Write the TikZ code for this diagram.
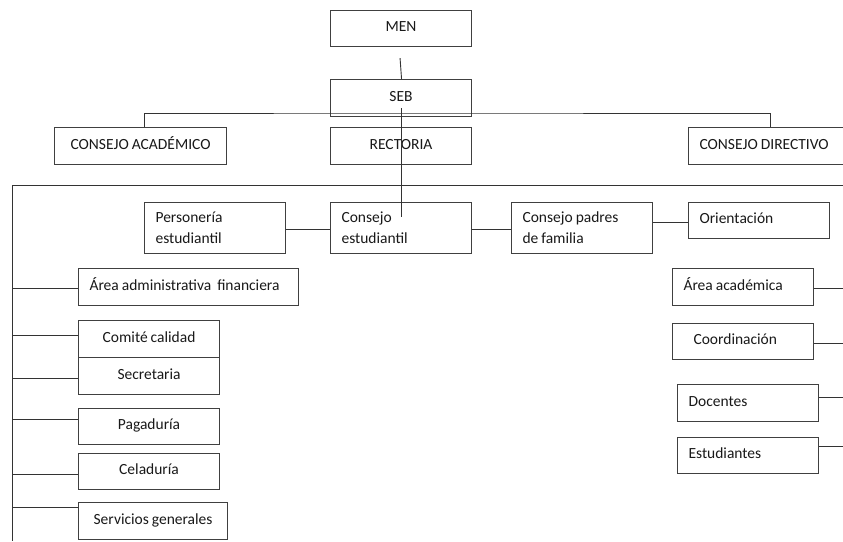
\documentclass[tikz,border=0pt]{standalone}
\usepackage{fontspec}
\setmainfont{Carlito}[WordSpace=0.85]
\begin{document}
\begin{tikzpicture}[x=1pt,y=-1pt,
  base/.style={draw=black!75, line width=1.1pt, rectangle, anchor=north west,
    inner xsep=11pt, inner ysep=0pt, font=\fontsize{15.5}{21}\selectfont, text=black!90},
  box/.style={base, text height=11pt, text depth=5pt},
  lbox/.style={box, align=flush left},
  tbox/.style={base, align=flush left},
  conn/.style={draw=black!80, line width=0.9pt}]
\useasboundingbox[fill=white] (0,0) rectangle (843,541);
% top level
\node[box, minimum width=141pt, minimum height=36pt] (men) at (330,10) {MEN};
\node[box, minimum width=141pt, minimum height=37pt] (seb) at (330,79) {SEB};
\node[box, minimum width=172pt, minimum height=37pt] (ca) at (54,127) {CONSEJO ACADÉMICO};
\node[box, minimum width=141pt, minimum height=37pt] (rec) at (330,127) {RECTORIA};
\node[lbox, text width=140pt, minimum height=37pt] (cd) at (688,127) {CONSEJO DIRECTIVO};
% second row
\node[tbox, text width=119pt, minimum height=51pt] (pers) at (144,202) {Personería\\estudiantil};
\node[tbox, text width=119pt, minimum height=51pt] (cest) at (330,202) {Consejo\\estudiantil};
\node[tbox, text width=119pt, minimum height=51pt] (cpf) at (511,202) {Consejo padres\\de familia};
\node[lbox, text width=119pt, minimum height=36pt] (ori) at (688,202) {Orientación};
% left column
\node[lbox, text width=198pt, minimum height=37pt] (aaf) at (78,268) {Área administrativa\ \ financiera};
\node[box, minimum width=141pt, minimum height=37pt] (com) at (78,320) {Comité calidad};
\node[box, minimum width=141pt, minimum height=37pt] (sec) at (78,357) {Secretaria};
\node[box, minimum width=141pt, minimum height=36pt] (pag) at (78,408) {Pagaduría};
\node[box, minimum width=141pt, minimum height=36pt] (cel) at (78,453) {Celaduría};
\node[box, minimum width=149pt, minimum height=37pt] (ser) at (78,502) {Servicios generales};
% right column
\node[lbox, text width=119pt, minimum height=37pt] (aac) at (672,268) {Área académica};
\node[lbox, inner xsep=21pt, text width=99pt, minimum height=36pt] (coo) at (672,323) {Coordinación};
\node[lbox, text width=119pt, minimum height=37pt] (doc) at (677,384) {Docentes};
\node[lbox, text width=119pt, minimum height=36pt] (est) at (677,437) {Estudiantes};
% coordinates
\coordinate (hb) at (400,113);
\coordinate (tl) at (12.5,185);
\coordinate (tr) at (843,185);
\coordinate (bl) at (12.5,541);
\coordinate (l1) at (12.5,288);
\coordinate (l2) at (12.5,335);
\coordinate (l3) at (12.5,378);
\coordinate (l4) at (12.5,419);
\coordinate (l5) at (12.5,474);
\coordinate (l6) at (12.5,507);
\coordinate (r1) at (843,288);
\coordinate (r2) at (843,343);
\coordinate (r3) at (843,397);
\coordinate (r4) at (843,446);
\coordinate (oy) at (670,222);
\coordinate (py) at (300,229);
% connectors
\draw[conn] ([xshift=-1pt,yshift=-11pt]men.south) -- ([xshift=0.5pt]seb.north);
\draw[conn] ([xshift=4pt]ca.north) |- (hb) -| ([xshift=82pt]cd.north west);
\draw[conn] ([yshift=-10pt]seb.center) -- ([yshift=11.5pt]cest.center);
\draw[conn] (tr) -- (tl) -- (bl);
\draw[conn] (pers.east |- py) -- (cest.west |- py);
\draw[conn] (cest.east |- py) -- (cpf.west |- py);
\draw[conn] (cpf.east |- oy) -- (ori.west |- oy);
\draw[conn] (l1) -- (aaf.west |- l1);
\draw[conn] (l2) -- (com.west |- l2);
\draw[conn] (l3) -- (sec.west |- l3);
\draw[conn] (l4) -- (pag.west |- l4);
\draw[conn] (l5) -- (cel.west |- l5);
\draw[conn] (l6) -- (ser.west |- l6);
\draw[conn] (aac.east |- r1) -- (r1);
\draw[conn] (coo.east |- r2) -- (r2);
\draw[conn] (doc.east |- r3) -- (r3);
\draw[conn] (est.east |- r4) -- (r4);
\end{tikzpicture}
\end{document}
